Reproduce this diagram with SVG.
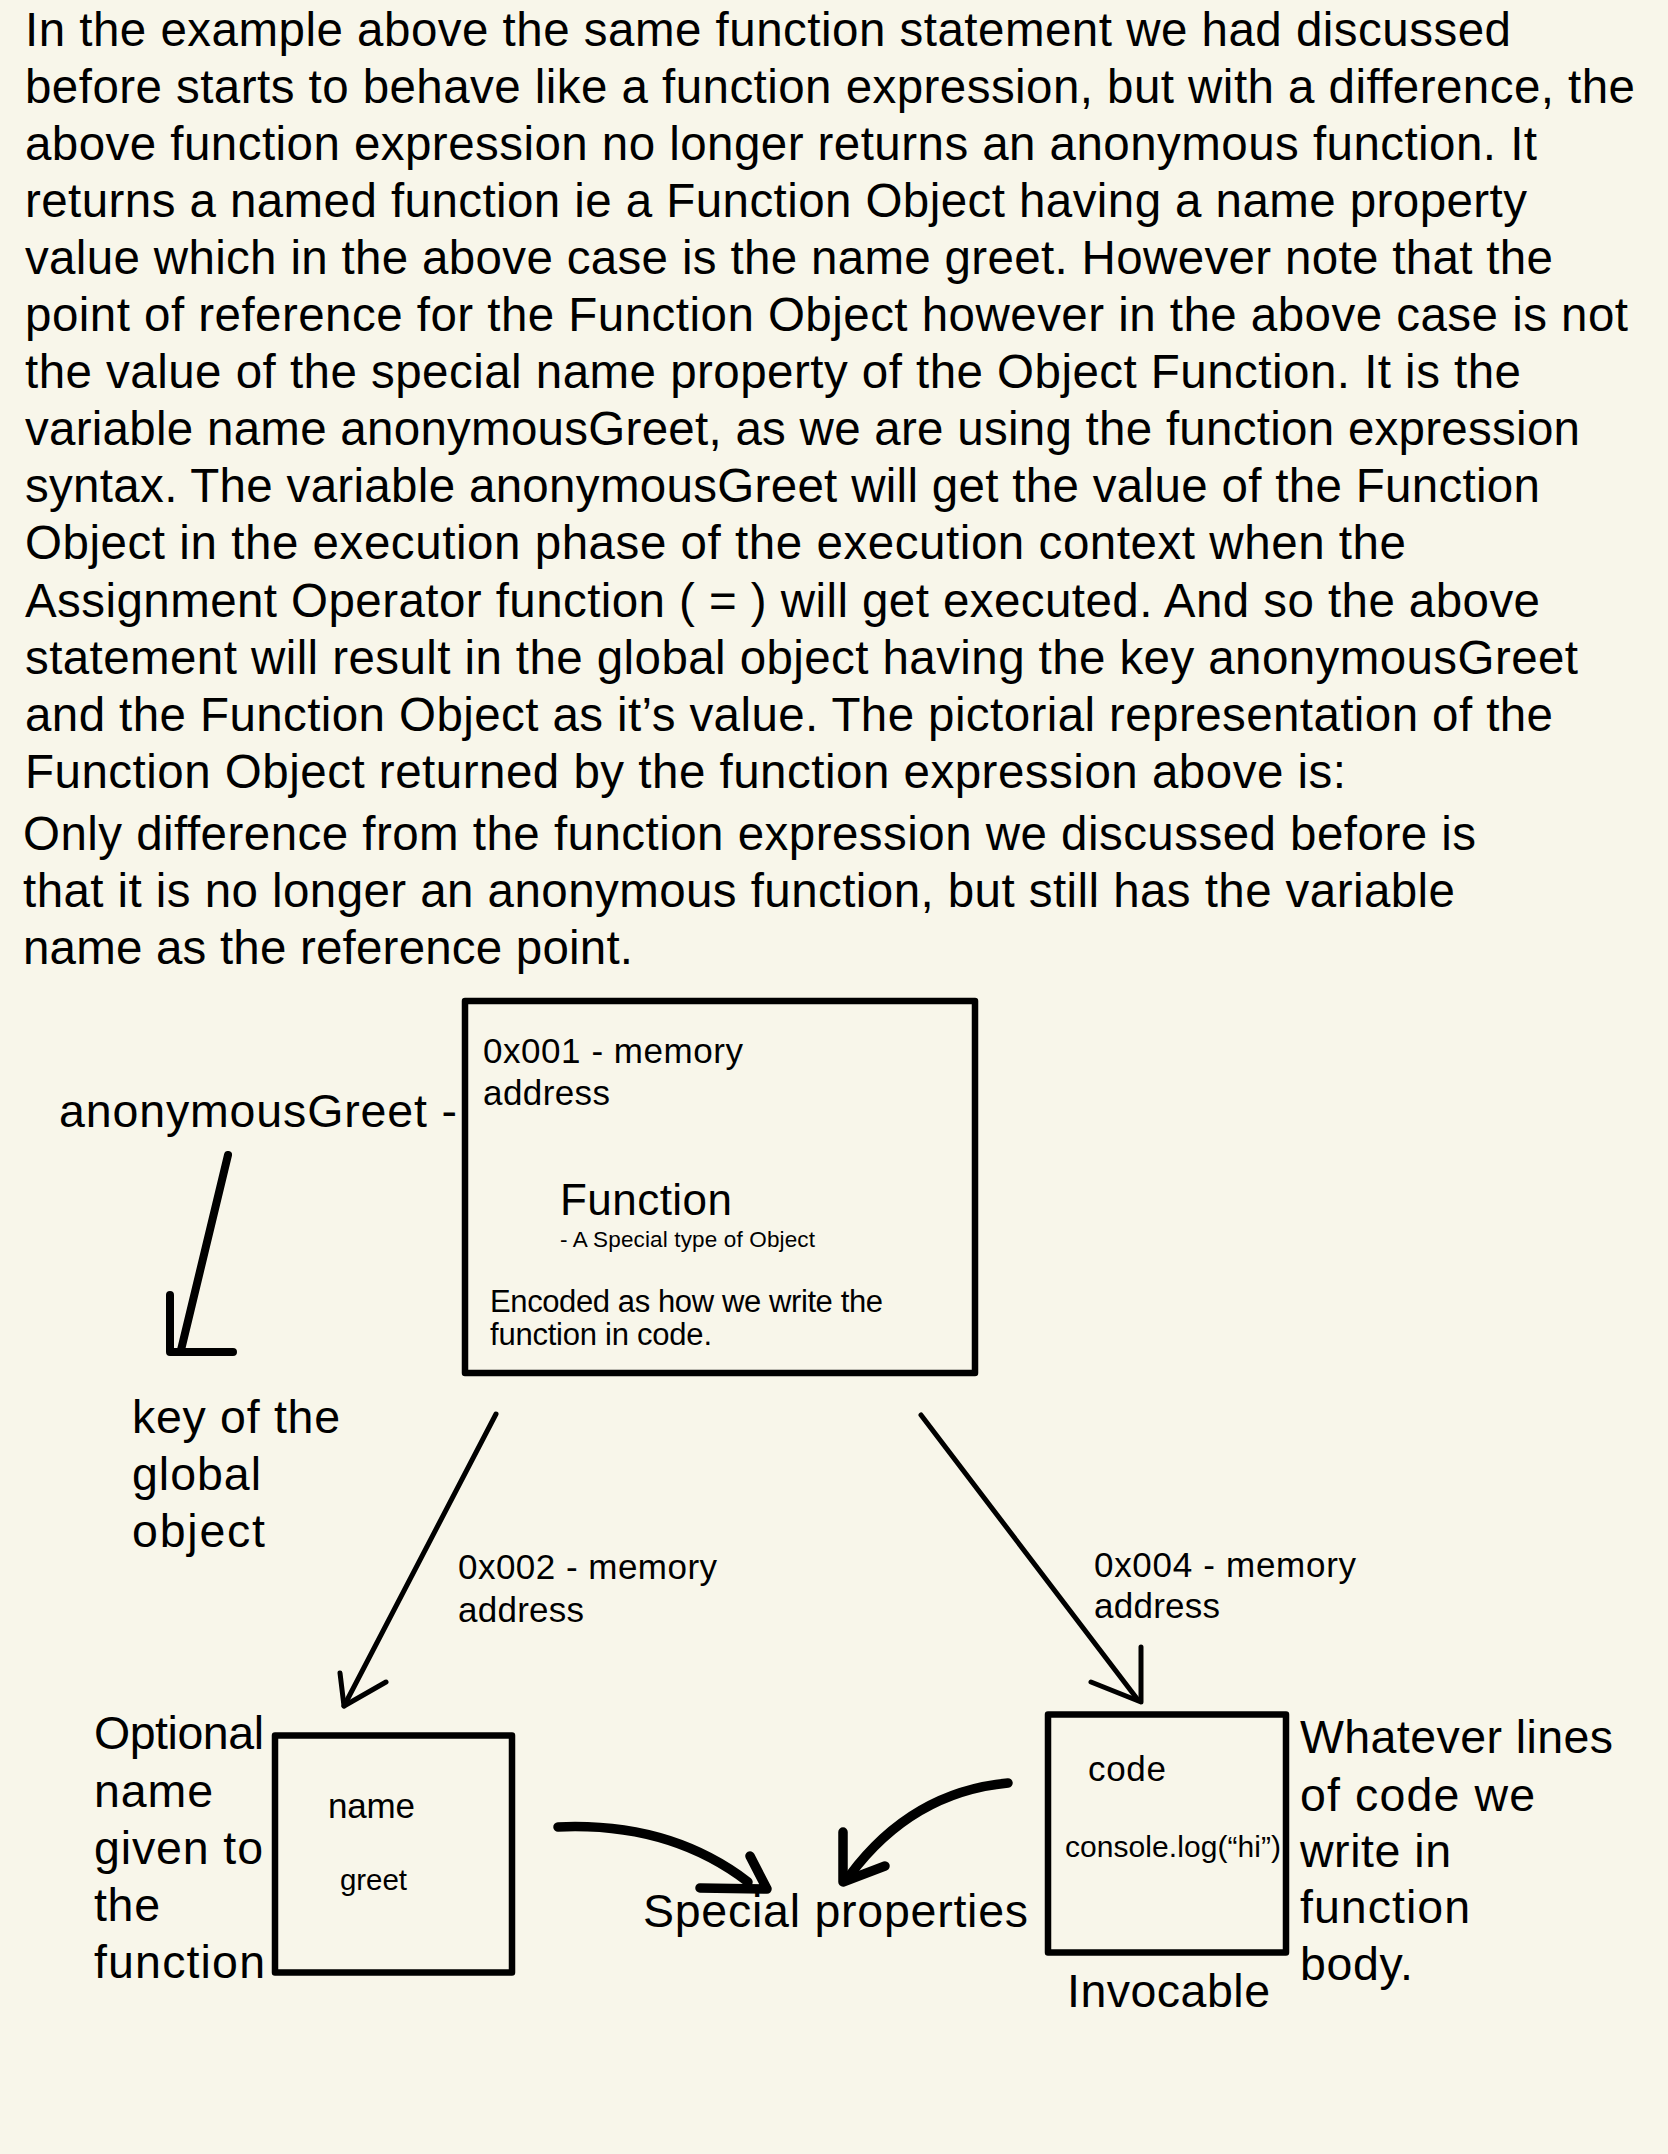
<svg xmlns="http://www.w3.org/2000/svg" width="1668" height="2154" viewBox="0 0 1668 2154">
<style>
text{font-family:"Liberation Sans",Arial,Helvetica,sans-serif;fill:#000}
.p{font-size:47.5px}
.l{font-size:46.5px}
.m{font-size:35px}
.box{fill:none;stroke:#000;stroke-width:6.5;stroke-linejoin:round}
.thin{fill:none;stroke:#000;stroke-width:5;stroke-linecap:round;stroke-linejoin:round}
.thick{fill:none;stroke:#000;stroke-width:8;stroke-linecap:round;stroke-linejoin:round}
.heavy{fill:none;stroke:#000;stroke-width:9.5;stroke-linecap:round;stroke-linejoin:round}
</style>
<rect x="0" y="0" width="1668" height="2154" fill="#F8F6EA"/>
<g id="paragraph" class="p">
<text x="25" y="45.5" textLength="1486" lengthAdjust="spacing">In the example above the same function statement we had discussed</text>
<text x="25" y="102.6" textLength="1610" lengthAdjust="spacing">before starts to behave like a function expression, but with a difference, the</text>
<text x="25" y="159.7" textLength="1512" lengthAdjust="spacing">above function expression no longer returns an anonymous function. It</text>
<text x="25" y="216.8" textLength="1502" lengthAdjust="spacing">returns a named function ie a Function Object having a name property</text>
<text x="25" y="273.9" textLength="1528" lengthAdjust="spacing">value which in the above case is the name greet. However note that the</text>
<text x="25" y="331" textLength="1603" lengthAdjust="spacing">point of reference for the Function Object however in the above case is not</text>
<text x="25" y="388.1" textLength="1496" lengthAdjust="spacing">the value of the special name property of the Object Function. It is the</text>
<text x="25" y="445.2" textLength="1555" lengthAdjust="spacing">variable name anonymousGreet, as we are using the function expression</text>
<text x="25" y="502.3" textLength="1515" lengthAdjust="spacing">syntax. The variable anonymousGreet will get the value of the Function</text>
<text x="25" y="559.4" textLength="1381" lengthAdjust="spacing">Object in the execution phase of the execution context when the</text>
<text x="25" y="616.5" textLength="1515" lengthAdjust="spacing">Assignment Operator function ( = ) will get executed. And so the above</text>
<text x="25" y="673.6" textLength="1553" lengthAdjust="spacing">statement will result in the global object having the key anonymousGreet</text>
<text x="25" y="730.7" textLength="1528" lengthAdjust="spacing">and the Function Object as it’s value. The pictorial representation of the</text>
<text x="25" y="787.8" textLength="1321" lengthAdjust="spacing">Function Object returned by the function expression above is:</text>
<text x="23" y="850" textLength="1453" lengthAdjust="spacing">Only difference from the function expression we discussed before is</text>
<text x="23" y="907" textLength="1432" lengthAdjust="spacing">that it is no longer an anonymous function, but still has the variable</text>
<text x="23" y="964" textLength="610" lengthAdjust="spacing">name as the reference point.</text>
</g>
<g id="function-object">
<rect class="box" x="465" y="1001" width="510" height="372"/>
<text class="m" x="483" y="1063" textLength="260" lengthAdjust="spacing">0x001 - memory</text>
<text class="m" x="483" y="1105" textLength="127" lengthAdjust="spacing">address</text>
<text x="560" y="1215" font-size="44" textLength="172" lengthAdjust="spacing">Function</text>
<text x="560" y="1247" font-size="22.5" textLength="255" lengthAdjust="spacing">- A Special type of Object</text>
<text x="490" y="1312" font-size="31" textLength="393" lengthAdjust="spacing">Encoded as how we write the</text>
<text x="490" y="1345" font-size="31" textLength="222" lengthAdjust="spacing">function in code.</text>
</g>
<g id="variable-label">
<text class="l" x="59" y="1127" textLength="398" lengthAdjust="spacing">anonymousGreet -</text>
</g>
<g id="key-label">
<text class="l" x="132" y="1433" textLength="208" lengthAdjust="spacing">key of the</text>
<text class="l" x="132" y="1490" textLength="129" lengthAdjust="spacing">global</text>
<text class="l" x="132" y="1547" textLength="133" lengthAdjust="spacing">object</text>
</g>
<g id="addr-002">
<text class="m" x="458" y="1579" textLength="259" lengthAdjust="spacing">0x002 - memory</text>
<text class="m" x="458" y="1622" textLength="126" lengthAdjust="spacing">address</text>
</g>
<g id="addr-004">
<text class="m" x="1094" y="1577" textLength="262" lengthAdjust="spacing">0x004 - memory</text>
<text class="m" x="1094" y="1618" textLength="126" lengthAdjust="spacing">address</text>
</g>
<g id="name-box">
<rect class="box" x="275" y="1735.5" width="237" height="237"/>
<text class="m" x="328" y="1818" textLength="87" lengthAdjust="spacing">name</text>
<text x="340" y="1890" font-size="29.5" textLength="67" lengthAdjust="spacing">greet</text>
</g>
<g id="optional-label">
<text class="l" x="94" y="1749" textLength="170" lengthAdjust="spacing">Optional</text>
<text class="l" x="94" y="1807" textLength="119" lengthAdjust="spacing">name</text>
<text class="l" x="94" y="1864" textLength="169" lengthAdjust="spacing">given to</text>
<text class="l" x="94" y="1921" textLength="66" lengthAdjust="spacing">the</text>
<text class="l" x="94" y="1978" textLength="171" lengthAdjust="spacing">function</text>
</g>
<g id="special-properties">
<text class="l" x="643" y="1927" textLength="385" lengthAdjust="spacing">Special properties</text>
</g>
<g id="code-box">
<rect class="box" x="1048" y="1714.5" width="238" height="238"/>
<text class="m" x="1088" y="1781" textLength="78" lengthAdjust="spacing">code</text>
<text x="1065" y="1857" font-size="30" textLength="216" lengthAdjust="spacing">console.log(“hi”)</text>
</g>
<g id="code-label">
<text class="l" x="1300" y="1753" textLength="313" lengthAdjust="spacing">Whatever lines</text>
<text class="l" x="1300" y="1811" textLength="235" lengthAdjust="spacing">of code we</text>
<text class="l" x="1300" y="1867" textLength="151" lengthAdjust="spacing">write in</text>
<text class="l" x="1300" y="1923" textLength="170" lengthAdjust="spacing">function</text>
<text class="l" x="1300" y="1980" textLength="113" lengthAdjust="spacing">body.</text>
</g>
<g id="invocable-label">
<text class="l" x="1067" y="2007" textLength="203" lengthAdjust="spacing">Invocable</text>
</g>
<g id="connectors">
<path class="thick" d="M228,1155 L181,1350"/>
<path class="thick" d="M170,1295 L170,1352 L233,1352"/>
<path class="thin" d="M496,1414 L344,1706"/>
<path class="thin" d="M386,1682 L344,1706 L340,1673"/>
<path class="thin" d="M921,1415 L1138,1700"/>
<path class="thin" d="M1141,1647 L1141,1702 L1091,1682"/>
<path class="heavy" d="M558,1827 Q670,1822 748,1882"/>
<path class="heavy" d="M700,1888 L767,1889 L750,1856"/>
<path class="heavy" d="M1008,1783 Q912,1792 850,1875"/>
<path class="heavy" d="M843,1832 L843,1882 L885,1866"/>
</g>
</svg>
